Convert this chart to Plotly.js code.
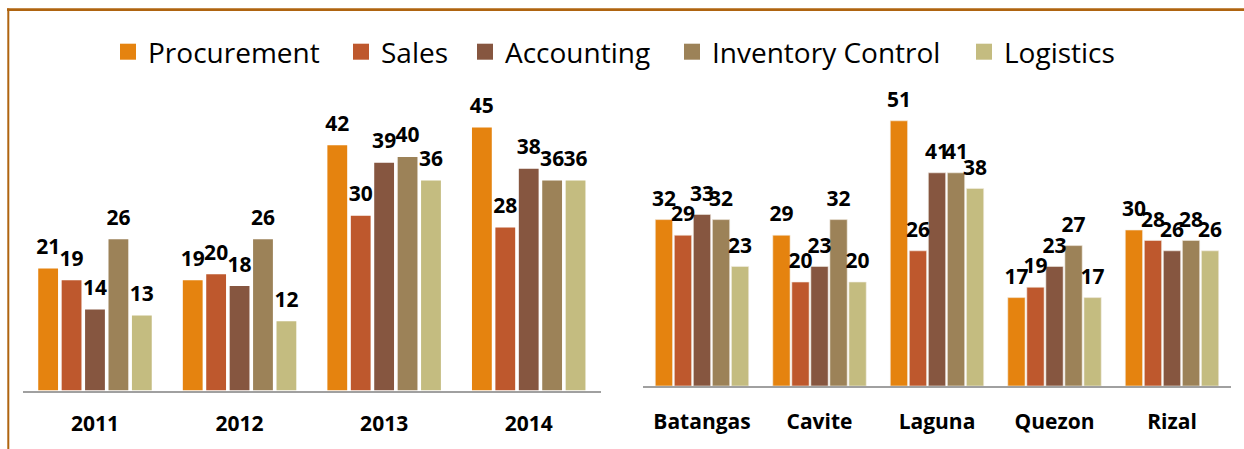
<!DOCTYPE html>
<html>
<head>
<meta charset="utf-8">
<script src="https://cdn.plot.ly/plotly-3.0.1.min.js"></script>
<style>
  html, body { margin: 0; padding: 0; background: #ffffff; }
  #chart { width: 1244px; height: 449px; }
</style>
</head>
<body>
<div id="chart"></div>
<script>
// ---- Data ----
const years = ['2011', '2012', '2013', '2014'];
const provinces = ['Batangas', 'Cavite', 'Laguna', 'Quezon', 'Rizal'];
const seriesNames = ['Procurement', 'Sales', 'Accounting', 'Inventory Control', 'Logistics'];

const procurementByYear = [21, 19, 42, 45];
const salesByYear = [19, 20, 30, 28];
const accountingByYear = [14, 18, 39, 38];
const inventoryByYear = [26, 26, 40, 36];
const logisticsByYear = [13, 12, 36, 36];

const procurementByProvince = [32, 29, 51, 17, 30];
const salesByProvince = [29, 20, 26, 19, 28];
const accountingByProvince = [33, 23, 41, 23, 26];
const inventoryByProvince = [32, 32, 41, 27, 28];
const logisticsByProvince = [23, 20, 38, 17, 26];

// ---- Styles ----
const seriesColors = ['#E5830F', '#BE582D', '#865640', '#9C8258', '#C4BC80'];
const legendMarkerCenters = [129, 362, 486, 693, 985]; // px, layout only
const W = 1244, H = 449;
const GAP = 0.19;

const byYear = [procurementByYear, salesByYear, accountingByYear, inventoryByYear, logisticsByYear];
const byProvince = [procurementByProvince, salesByProvince, accountingByProvince, inventoryByProvince, logisticsByProvince];

const labelFont = { family: 'Open Sans, sans-serif', size: 21, color: '#000000', weight: 'bold' };

const traces = [];
seriesNames.forEach((name, i) => {
  traces.push({
    type: 'bar', name: name, x: years, y: byYear[i],
    xaxis: 'x', yaxis: 'y', showlegend: false, offsetgroup: 'L' + i,
    marker: { color: seriesColors[i], line: { color: '#ffffff', width: 1.5 } },
    hoverinfo: 'skip'
  });
  traces.push({
    type: 'bar', name: name, x: provinces, y: byProvince[i],
    xaxis: 'x2', yaxis: 'y2', showlegend: false, offsetgroup: 'R' + i,
    marker: { color: seriesColors[i], line: { color: '#f4eee6', width: 0.6 } },
    hoverinfo: 'skip'
  });
});
// value labels, grouped to sit over their bars
seriesNames.forEach((name, i) => {
  traces.push({
    type: 'scatter', mode: 'markers+text', name: name, x: years, y: byYear[i],
    xaxis: 'x', yaxis: 'y', showlegend: false, offsetgroup: 'L' + i,
    marker: { size: 12, opacity: 0, color: seriesColors[i] },
    text: byYear[i].map(String), textposition: 'top center',
    textfont: labelFont, cliponaxis: false, hoverinfo: 'skip'
  });
  traces.push({
    type: 'scatter', mode: 'markers+text', name: name, x: provinces, y: byProvince[i],
    xaxis: 'x2', yaxis: 'y2', showlegend: false, offsetgroup: 'R' + i,
    marker: { size: 12, opacity: 0, color: seriesColors[i] },
    text: byProvince[i].map(String), textposition: 'top center',
    textfont: labelFont, cliponaxis: false, hoverinfo: 'skip'
  });
});
// legend entries (on a hidden axis so they do not take part in grouping)
const legendIds = ['legend', 'legend2', 'legend3', 'legend4', 'legend5'];
seriesNames.forEach((name, i) => {
  traces.push({
    type: 'scatter', mode: 'markers', name: name, x: [null], y: [null],
    xaxis: 'x3', yaxis: 'y3', showlegend: true, legend: legendIds[i], hoverinfo: 'skip',
    marker: { symbol: 'square', size: 18, color: seriesColors[i] }
  });
});

const tickFont = { family: 'Open Sans, sans-serif', size: 21, color: '#000000', weight: 'bold' };

const layout = {
  width: W, height: H,
  margin: { l: 0, r: 0, t: 0, b: 0 },
  paper_bgcolor: '#ffffff', plot_bgcolor: 'rgba(0,0,0,0)',
  barmode: 'group', bargap: GAP, bargroupgap: 0.09,
  scattermode: 'group', scattergap: GAP,
  showlegend: true,
  xaxis: {
    domain: [22.7 / W, 601 / W], type: 'category', categoryarray: years,
    showline: true, linecolor: '#A0A0A0', linewidth: 1.5,
    ticks: 'outside', ticklen: 13, tickcolor: 'rgba(0,0,0,0)',
    tickfont: tickFont, showgrid: false, zeroline: false, fixedrange: true
  },
  yaxis: {
    domain: [(H - 391) / H, (H - 97.5) / H], range: [0, 50],
    visible: false, showgrid: false, zeroline: false, fixedrange: true
  },
  xaxis2: {
    domain: [643.25 / W, 1230.75 / W], type: 'category', categoryarray: provinces,
    anchor: 'y2',
    showline: true, linecolor: '#A0A0A0', linewidth: 1.5,
    ticks: 'outside', ticklen: 16, tickcolor: 'rgba(0,0,0,0)',
    tickfont: tickFont, showgrid: false, zeroline: false, fixedrange: true
  },
  yaxis2: {
    domain: [(H - 386) / H, (H - 100) / H], range: [0, 55], anchor: 'x2',
    visible: false, showgrid: false, zeroline: false, fixedrange: true
  },
  xaxis3: { domain: [0, 0.01], anchor: 'y3', visible: false, fixedrange: true },
  yaxis3: { domain: [0, 0.01], anchor: 'x3', visible: false, fixedrange: true },
  shapes: [
    { type: 'line', xref: 'paper', yref: 'paper', x0: 7 / W, x1: 1, y0: 1 - 9.7 / H, y1: 1 - 9.7 / H,
      line: { color: '#AF6410', width: 2.7 } },
    { type: 'line', xref: 'paper', yref: 'paper', x0: 8.3 / W, x1: 8.3 / W, y0: 0, y1: 1 - 8.5 / H,
      line: { color: '#AF6410', width: 2 } }
  ]
};
legendIds.forEach((id, i) => {
  layout[id] = {
    orientation: 'h', x: (legendMarkerCenters[i] - 21) / W, xanchor: 'left',
    y: 1 - 52 / H, yanchor: 'middle',
    font: { family: 'Open Sans, sans-serif', size: 28, color: '#000000' },
    bgcolor: 'rgba(0,0,0,0)', borderwidth: 0
  };
});

Plotly.newPlot('chart', traces, layout, { staticPlot: true, displayModeBar: false });
</script>
</body>
</html>
